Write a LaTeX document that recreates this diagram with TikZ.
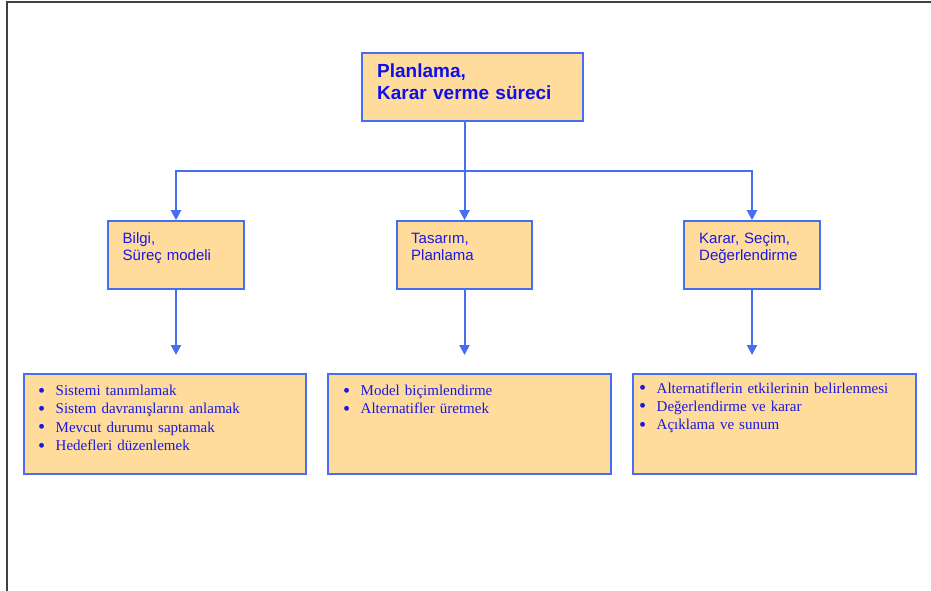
\documentclass[tikz,border=0pt]{standalone}
\usepackage{fontspec}
\setmainfont{Liberation Serif}
\setsansfont{Liberation Sans}
\usetikzlibrary{arrows.meta}
\definecolor{boxfill}{RGB}{255,220,155}
\definecolor{boxline}{RGB}{70,110,240}
\definecolor{textblue}{RGB}{25,25,225}
\definecolor{titleblue}{RGB}{15,15,235}

\begin{document}
\begin{tikzpicture}[x=1pt,y=-1pt,
  box/.style={draw=boxline,line width=1.6pt,fill=boxfill,inner sep=0pt},
  link/.style={boxline,line width=2pt,-{Triangle[width=10pt,length=10pt]}},
  headtext/.style={anchor=base west,inner sep=0pt,text width=200pt,align=left,
    text=titleblue,font=\sffamily\bfseries\fontsize{19}{22}\selectfont},
  steptext/.style={anchor=base west,inner sep=0pt,text width=120pt,align=left,
    text=textblue,font=\sffamily\fontsize{15}{17}\selectfont},
  listtext/.style={anchor=base west,inner sep=0pt,text width=270pt,align=left,
    text=textblue,font=\rmfamily\fontsize{15}{18.3}\selectfont}]
  \useasboundingbox (0,0) rectangle (931,591);
  \newcommand{\itm}[1]{\makebox[17.5pt][l]{\raisebox{-1.6pt}{\scalebox{1.35}{\textbullet}}}#1}

  % page frame
  \draw[line width=2pt,black!75] (7,591) -- (7,2) -- (931,2);

  % boxes
  \node[box,minimum width=221pt,minimum height=68pt] (top) at (472.5,87) {};
  \node[box,minimum width=136pt,minimum height=68pt] (bilgi) at (176,255) {};
  \node[box,minimum width=135pt,minimum height=68pt] (tasarim) at (464.5,255) {};
  \node[box,minimum width=136pt,minimum height=68pt] (karar) at (752,255) {};
  \node[box,minimum width=282pt,minimum height=100pt] (bilgilist) at (165,424) {};
  \node[box,minimum width=283pt,minimum height=100pt] (tasarimlist) at (469.5,424) {};
  \node[box,minimum width=283pt,minimum height=100pt] (kararlist) at (774.5,424) {};

  % texts
  \node[headtext] (toptext) at (377,78) {Planlama,\\Karar verme süreci};
  \node[steptext] (bilgitext) at (122.5,243) {Bilgi,\\Süreç modeli};
  \node[steptext] (tasarimtext) at (411,243) {Tasarım,\\Planlama};
  \node[steptext] (karartext) at (699,243) {Karar, Seçim,\\Değerlendirme};
  \node[listtext] (bilgiitems) at (38,395.5) {\itm{Sistemi tanımlamak}\\
    \itm{Sistem davranışlarını anlamak}\\\itm{Mevcut durumu saptamak}\\
    \itm{Hedefleri düzenlemek}};
  \node[listtext] (tasarimitems) at (343,395.5) {\itm{Model biçimlendirme}\\
    \itm{Alternatifler üretmek}};
  \node[listtext] (kararitems) at (639,393) {\itm{Alternatiflerin etkilerinin belirlenmesi}\\
    \itm{Değerlendirme ve karar}\\\itm{Açıklama ve sunum}};

  % connectors
  \coordinate (bus) at (464.5,171);
  \draw[link] (top.south -| tasarim.north) -- (tasarim.north);
  \draw[link] (bus) -| (bilgi.north);
  \draw[link] (bus) -| (karar.north);
  \coordinate (bilgiend) at (176,355);
  \coordinate (tasarimend) at (464.5,355);
  \coordinate (kararend) at (752,355);
  \draw[link] (bilgi.south) -- (bilgiend);
  \draw[link] (tasarim.south) -- (tasarimend);
  \draw[link] (karar.south) -- (kararend);
\end{tikzpicture}
\end{document}
